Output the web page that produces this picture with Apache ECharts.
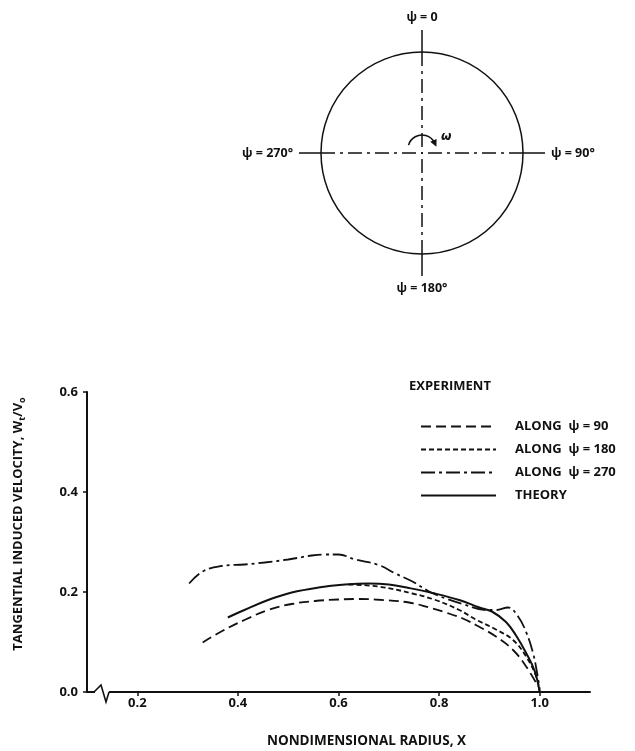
<!DOCTYPE html>
<html><head><meta charset="utf-8">
<script src="https://cdn.jsdelivr.net/npm/echarts@6/dist/echarts.min.js"></script>
<style>html,body{margin:0;padding:0;background:#fff}#c{width:635px;height:751px}</style>
</head><body><div id="c"></div>
<script>
const FONT = 'Open Sans';
const INK = '#111';

// ---- data ----
const seriesNames = ['ALONG  ψ = 90', 'ALONG  ψ = 180', 'ALONG  ψ = 270', 'THEORY'];

const x90 = [0.33, 0.367, 0.413, 0.46, 0.507, 0.553, 0.60, 0.64, 0.673, 0.74, 0.78, 0.813, 0.847, 0.875, 0.913, 0.947, 0.973, 0.997];
const y90 = [0.099, 0.121, 0.144, 0.164, 0.176, 0.182, 0.185, 0.186, 0.185, 0.179, 0.169, 0.159, 0.147, 0.133, 0.111, 0.084, 0.051, 0.011];

const x180 = [0.62, 0.68, 0.747, 0.793, 0.84, 0.873, 0.913, 0.947, 0.973, 0.993, 1.0];
const y180 = [0.215, 0.211, 0.197, 0.184, 0.164, 0.145, 0.125, 0.104, 0.071, 0.031, 0.0];

const x270 = [0.303, 0.33, 0.367, 0.413, 0.453, 0.50, 0.547, 0.573, 0.60, 0.633, 0.68, 0.713, 0.747, 0.78, 0.813, 0.847, 0.893, 0.913, 0.937, 0.957, 0.973, 0.987, 0.995, 1.0];
const y270 = [0.217, 0.241, 0.252, 0.255, 0.259, 0.265, 0.273, 0.275, 0.275, 0.265, 0.254, 0.237, 0.221, 0.201, 0.187, 0.176, 0.164, 0.164, 0.169, 0.151, 0.12, 0.077, 0.037, 0.005];

const xTheory = [0.38, 0.413, 0.46, 0.507, 0.56, 0.613, 0.66, 0.70, 0.74, 0.787, 0.84, 0.88, 0.905, 0.933, 0.953, 0.973, 0.99, 1.0];
const yTheory = [0.149, 0.164, 0.184, 0.199, 0.209, 0.215, 0.217, 0.215, 0.208, 0.198, 0.184, 0.169, 0.161, 0.14, 0.113, 0.078, 0.042, 0.0];

const xTicks = [0.2, 0.4, 0.6, 0.8, 1.0];
const yTicks = [0.0, 0.2, 0.4, 0.6];
const azimuthValues = [0, 90, 180, 270];
const azimuthLabels = ['ψ = 0', 'ψ = 90°', 'ψ = 180°', 'ψ = 270°'];

const legendTitle = 'EXPERIMENT';
const xName = 'NONDIMENSIONAL RADIUS, X';

// ---- build ----
const zip = (xs, ys) => xs.map((x, i) => [x, ys[i]]);
const dashes = [
  [10, 5],          // psi = 90 : long dash
  [5, 3],           // psi = 180 : short dash
  [14, 4, 3, 4],    // psi = 270 : dash-dot
  'solid'
];
const dataSets = [zip(x90, y90), zip(x180, y180), zip(x270, y270), zip(xTheory, yTheory)];

const series = seriesNames.map((name, i) => ({
  name,
  type: 'line',
  xAxisIndex: 0, yAxisIndex: 0,
  data: dataSets[i],
  smooth: 0.4,
  symbol: 'none',
  showSymbol: false,
  itemStyle: { color: INK },
  lineStyle: { color: INK, width: i === 3 ? 2 : 1.8, type: dashes[i] },
  z: i === 3 ? 5 : 3
}));

const chart = echarts.init(document.getElementById('c'), null, { renderer: 'canvas' });

const labelFont = { fontFamily: FONT, fontWeight: 'bold', color: INK };

const option = {
  backgroundColor: '#fff',
  animation: false,
  title: {
    text: legendTitle,
    left: 404, top: 375,
    textStyle: Object.assign({ fontSize: 13 }, labelFont)
  },
  legend: {
    orient: 'vertical',
    left: 415, top: 415,
    itemWidth: 75, itemHeight: 14, itemGap: 10,
    selectedMode: false,
    data: seriesNames,
    itemStyle: { opacity: 0 },
    textStyle: Object.assign({ fontSize: 13, padding: [0, 0, 0, 14] }, labelFont)
  },
  grid: { left: 87, right: 45, top: 392, bottom: 59, containLabel: false },
  xAxis: {
    type: 'value', min: 0.1, max: 1.1,
    name: xName, nameLocation: 'middle', nameGap: 42,
    nameTextStyle: Object.assign({ fontSize: 13.5, padding: [0, 0, 0, 56] }, labelFont),
    axisLine: { show: true, onZero: false, lineStyle: { color: INK, width: 2 } },
    axisTick: { show: true, length: 4, customValues: xTicks, lineStyle: { color: INK, width: 1.5 } },
    axisLabel: { customValues: xTicks, margin: 5, fontSize: 13, fontFamily: FONT, fontWeight: 'bold', color: INK,
      formatter: v => v.toFixed(1) },
    splitLine: { show: false }
  },
  yAxis: {
    type: 'value', min: 0, max: 0.6, interval: 0.2,
    name: 'TANGENTIAL INDUCED VELOCITY, W{s|t}/V{s|o}',
    nameLocation: 'middle', nameGap: 60, nameRotate: 90,
    nameTextStyle: Object.assign({ fontSize: 13, padding: [0, 0, 0, 36],
      rich: { s: { fontSize: 9, fontFamily: FONT, fontWeight: 'bold', color: INK, padding: [8, 0, 0, 0] } } }, labelFont),
    axisLine: { show: true, onZero: false, lineStyle: { color: INK, width: 2 } },
    axisTick: { show: true, length: 4, lineStyle: { color: INK, width: 1.5 } },
    axisLabel: { margin: 9, fontSize: 13, fontFamily: FONT, fontWeight: 'bold', color: INK,
      formatter: v => v.toFixed(1) },
    splitLine: { show: false }
  },
  polar: { center: [422, 153], radius: 101 },
  angleAxis: {
    type: 'value', min: 0, max: 360, interval: 90,
    startAngle: 90, clockwise: true,
    axisLine: { show: true, lineStyle: { color: INK, width: 1.5 } },
    axisTick: { show: true, length: 22, lineStyle: { color: INK, width: 1.5 } },
    splitLine: { show: true, lineStyle: { color: INK, width: 1.5, type: [14, 5, 3, 5] } },
    axisLabel: {
      margin: 28, fontSize: 12.5, fontFamily: FONT, fontWeight: 'bold', color: INK,
      formatter: v => {
        const k = azimuthValues.indexOf(v);
        return k >= 0 ? azimuthLabels[k] : '';
      }
    }
  },
  radiusAxis: { show: false, min: 0, max: 1, splitLine: { show: false } },
  series
};
chart.setOption(option);

// ---- decorations: axis break zigzag and rotation arrow ----
const o = chart.convertToPixel({ gridIndex: 0 }, [0.1, 0]);
const bx = o[0], by = o[1];
const c = chart.convertToPixel({ polarIndex: 0 }, [0, 0]);
const cx = c[0], cy = c[1] - 4, r = 14;
const a0 = 196 * Math.PI / 180, a1 = 335 * Math.PI / 180;
const ex = cx + r * Math.cos(a1), ey = cy + r * Math.sin(a1);
const dx = -Math.sin(a1), dy = Math.cos(a1);
const nx = dy, ny = -dx;
const tip = [ex + dx * 4, ey + dy * 4];
const bc = [ex - dx * 3, ey - dy * 3];

chart.setOption({
  graphic: [
    { type: 'rect', shape: { x: bx + 8, y: by - 3, width: 14, height: 6 }, style: { fill: '#fff' }, z: 100 },
    { type: 'polyline', shape: { points: [[bx + 7, by], [bx + 14, by - 7], [bx + 19, by + 10], [bx + 22, by]] },
      style: { stroke: INK, lineWidth: 1.6, fill: null }, z: 101 },
    { type: 'arc', shape: { cx, cy, r, startAngle: a0, endAngle: a1, clockwise: true },
      style: { stroke: INK, lineWidth: 1.6, fill: null }, z: 101 },
    { type: 'polygon', shape: { points: [tip, [bc[0] + nx * 3.5, bc[1] + ny * 3.5], [bc[0] - nx * 3.5, bc[1] - ny * 3.5]] },
      style: { fill: INK }, z: 101 },
    { type: 'text', x: cx + 19, y: cy - 18,
      style: { text: 'ω', font: 'italic bold 12px "DejaVu Sans"', fill: INK }, z: 101 }
  ]
});
</script>
</body></html>
